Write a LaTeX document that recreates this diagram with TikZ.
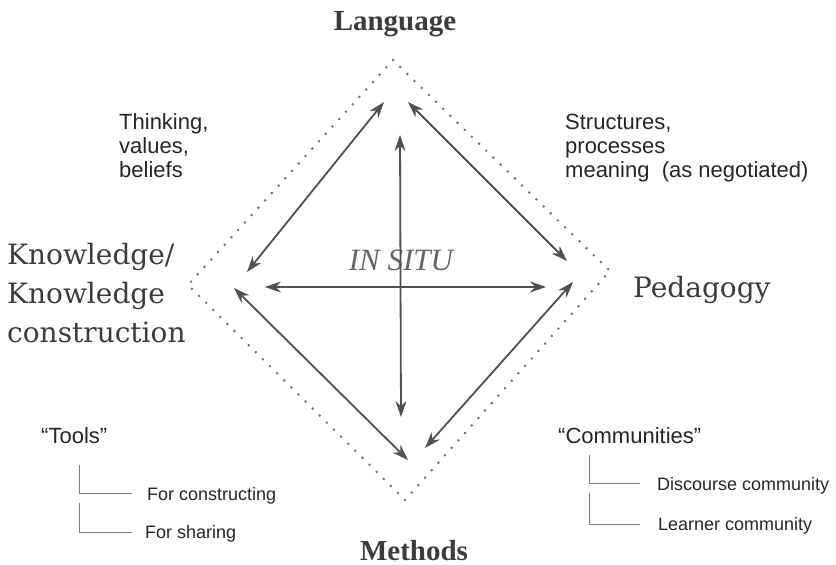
\documentclass[tikz,border=0pt]{standalone}
\usepackage{fontspec}
\setsansfont{Liberation Sans}
\newfontfamily\cornerfont{DejaVu Serif}
\newfontfamily\captfont{Liberation Serif}
\usepackage{xcolor}
\usepackage{tikz}
\usetikzlibrary{arrows.meta}

\definecolor{arrowgray}{HTML}{505050}
\definecolor{headgray}{HTML}{3C3C3C}
\definecolor{dotgray}{HTML}{707070}

\begin{document}
\begin{tikzpicture}[x=1pt,y=-1pt,
    arr/.style={{Stealth[length=16pt,width=11pt]}-{Stealth[length=16pt,width=11pt]}, line width=1.8pt, arrowgray},
    dots/.style={dotgray, line width=2.8pt, line cap=round, dash pattern=on 0pt off 10pt},
    branch/.style={gray, line width=0.9pt},
    lbl/.style={font=\sffamily\fontsize{22}{24}\selectfont, align=left, anchor=base west, inner sep=0pt, text=black!85},
    sub/.style={font=\sffamily\fontsize{18}{20}\selectfont, anchor=base west, inner sep=0pt, text=black!85},
    corner/.style={font=\cornerfont\fontsize{28}{39}\selectfont, align=left, anchor=base west, inner sep=0pt, text=headgray},
    capt/.style={font=\captfont\bfseries\fontsize{29}{30}\selectfont, anchor=base, inner sep=0pt, text=headgray}]
    \useasboundingbox (0,0) rectangle (836,565);

    % corner labels (multi-line nodes sit on their last baseline)
    \node[capt] (lang) at (395,30) {Language};
    \node[capt] (meth) at (414,560) {Methods};
    \node[corner] (know) at (7,342) {Knowledge/\\Knowledge\\construction};
    \node[corner] (peda) at (633,297) {Pedagogy};
    \node[font=\captfont\itshape\fontsize{31}{32}\selectfont, text=black!60, anchor=base, inner sep=0pt] (situ) at (401,270) {IN SITU};

    % side texts
    \node[lbl] (think) at (119,177) {Thinking,\\values,\\beliefs};
    \node[lbl] (struct) at (565,177) {Structures,\\processes\\meaning~~(as negotiated)};

    % dotted frame
    \coordinate (dtop) at (393,60);
    \coordinate (dright) at (610,271);
    \coordinate (dbot) at (405,500);
    \coordinate (dleft) at (188,285);
    \draw[dots] (dtop) -- (dright) -- (dbot) -- (dleft) -- cycle;

    % arrows
    \coordinate (tl1) at (247,272);
    \coordinate (tl2) at (384,102);
    \coordinate (tr1) at (408,102);
    \coordinate (tr2) at (567,261);
    \coordinate (h1) at (265,287);
    \coordinate (h2) at (546,287);
    \coordinate (v1) at (400,135);
    \coordinate (v2) at (401,417);
    \coordinate (bl1) at (234,288);
    \coordinate (bl2) at (408,460);
    \coordinate (br1) at (573,282);
    \coordinate (br2) at (425,448);
    \draw[arr] (tl1) -- (tl2);
    \draw[arr] (tr1) -- (tr2);
    \draw[arr] (h1) -- (h2);
    \draw[arr] (v1) -- (v2);
    \draw[arr] (bl1) -- (bl2);
    \draw[arr] (br1) -- (br2);

    % tools
    \node[lbl] (tools) at (41,443) {``Tools''};
    \node[sub] (forcon) at (147,500) {For constructing};
    \node[sub] (forsh) at (145,538) {For sharing};
    \coordinate (tt1) at (79,465);
    \coordinate (tt2) at (79,503);
    \draw[branch] (tt1) |- ([xshift=-15pt,yshift=2pt]forcon.west);
    \draw[branch] (tt2) |- ([xshift=-13pt,yshift=1pt]forsh.west);

    % communities
    \node[lbl] (comm) at (558,443) {``Communities''};
    \node[sub] (disc) at (657,490) {Discourse community};
    \node[sub] (learn) at (658,530) {Learner community};
    \coordinate (ct1) at (589,455);
    \coordinate (ct2) at (589,493);
    \draw[branch] (ct1) |- ([xshift=-17pt,yshift=2pt]disc.west);
    \draw[branch] (ct2) |- ([xshift=-18pt,yshift=1pt]learn.west);
\end{tikzpicture}
\end{document}
